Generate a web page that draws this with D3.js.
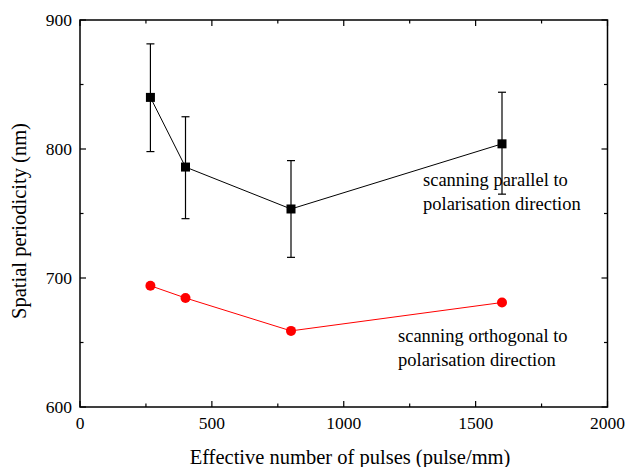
<!DOCTYPE html>
<html>
<head>
<meta charset="utf-8">
<script src="https://cdn.jsdelivr.net/npm/d3@7"></script>
<style>
  body { margin: 0; background: #fff; }
</style>
</head>
<body>
<div id="chart"></div>
<script>
// Data
const pulses = [267, 400, 800, 1600];
const parallelPeriod = [840, 786, 753.5, 804];
const parallelErrLow = [798, 746, 716, 765];
const parallelErrHigh = [881.5, 825, 791, 844];
const orthogonalPeriod = [694, 684.5, 659, 681];

const xTicks = [0, 500, 1000, 1500, 2000];
const xMinor = [250, 750, 1250, 1750];
const yTicks = [600, 700, 800, 900];
const yMinor = [650, 750, 850];

const FONT = "'Liberation Serif', Tinos, 'Times New Roman', 'DejaVu Serif', serif";
const width = 628, height = 467;
const margin = { top: 20, right: 20, bottom: 60, left: 80 };

const svg = d3.select('#chart').append('svg')
  .attr('width', width)
  .attr('height', height)
  .attr('font-family', FONT)
  .style('display', 'block');

const x = d3.scaleLinear().domain([0, 2000]).range([margin.left, 607.5]);
const y = d3.scaleLinear().domain([600, 900]).range([407, margin.top]);

const x0 = x.range()[0], x1 = x.range()[1];
const y0 = y.range()[0], y1 = y.range()[1];

// Frame
svg.append('rect')
  .attr('x', x0).attr('y', y1)
  .attr('width', x1 - x0).attr('height', y0 - y1)
  .attr('fill', 'none').attr('stroke', '#000').attr('stroke-width', 1.5);

// Ticks pointing inward on all four sides
const ticks = svg.append('g').attr('stroke', '#000').attr('stroke-width', 1.2);
function xTick(v, len) {
  ticks.append('line').attr('x1', x(v)).attr('x2', x(v)).attr('y1', y0).attr('y2', y0 - len);
  ticks.append('line').attr('x1', x(v)).attr('x2', x(v)).attr('y1', y1).attr('y2', y1 + len);
}
function yTick(v, len) {
  ticks.append('line').attr('y1', y(v)).attr('y2', y(v)).attr('x1', x0).attr('x2', x0 + len);
  ticks.append('line').attr('y1', y(v)).attr('y2', y(v)).attr('x1', x1).attr('x2', x1 - len);
}
xTicks.forEach(v => xTick(v, 6));
xMinor.forEach(v => xTick(v, 3.5));
yTicks.forEach(v => yTick(v, 6));
yMinor.forEach(v => yTick(v, 3.5));

// Tick labels
svg.append('g').selectAll('text')
  .data(xTicks)
  .join('text')
  .attr('x', d => x(d))
  .attr('y', y0 + 22)
  .attr('text-anchor', 'middle')
  .attr('font-family', FONT)
  .attr('font-size', 17.5)
  .text(d => d);

svg.append('g').selectAll('text')
  .data(yTicks)
  .join('text')
  .attr('x', x0 - 8)
  .attr('y', d => y(d) + 6)
  .attr('text-anchor', 'end')
  .attr('font-family', FONT)
  .attr('font-size', 17.5)
  .text(d => d);

// Axis titles
svg.append('text')
  .attr('x', 350)
  .attr('y', 464)
  .attr('text-anchor', 'middle')
  .attr('font-family', FONT)
  .attr('font-size', 20.5)
  .text('Effective number of pulses (pulse/mm)');

svg.append('text')
  .attr('transform', 'translate(26,221) rotate(-90)')
  .attr('text-anchor', 'middle')
  .attr('font-family', FONT)
  .attr('font-size', 20.5)
  .text('Spatial periodicity (nm)');

// Parallel series
const par = pulses.map((p, i) => ({
  x: p, y: parallelPeriod[i], lo: parallelErrLow[i], hi: parallelErrHigh[i]
}));
const orth = pulses.map((p, i) => ({ x: p, y: orthogonalPeriod[i] }));

const line = d3.line().x(d => x(d.x)).y(d => y(d.y));

const errG = svg.append('g').attr('stroke', '#000').attr('stroke-width', 1.2);
par.forEach(d => {
  errG.append('line').attr('x1', x(d.x)).attr('x2', x(d.x)).attr('y1', y(d.lo)).attr('y2', y(d.hi));
  errG.append('line').attr('x1', x(d.x) - 4).attr('x2', x(d.x) + 4).attr('y1', y(d.lo)).attr('y2', y(d.lo));
  errG.append('line').attr('x1', x(d.x) - 4).attr('x2', x(d.x) + 4).attr('y1', y(d.hi)).attr('y2', y(d.hi));
});

svg.append('path')
  .datum(par)
  .attr('d', line)
  .attr('fill', 'none')
  .attr('stroke', '#000')
  .attr('stroke-width', 1);

svg.append('g').selectAll('rect')
  .data(par)
  .join('rect')
  .attr('x', d => x(d.x) - 4.5)
  .attr('y', d => y(d.y) - 4.5)
  .attr('width', 9)
  .attr('height', 9)
  .attr('fill', '#000');

// Orthogonal series
svg.append('path')
  .datum(orth)
  .attr('d', line)
  .attr('fill', 'none')
  .attr('stroke', '#ff0000')
  .attr('stroke-width', 1);

svg.append('g').selectAll('circle')
  .data(orth)
  .join('circle')
  .attr('cx', d => x(d.x))
  .attr('cy', d => y(d.y))
  .attr('r', 5)
  .attr('fill', '#ff0000');

// Annotations
const notes = [
  { x: 423, y: 186, lines: ['scanning parallel to', 'polarisation direction'] },
  { x: 398, y: 342, lines: ['scanning orthogonal to', 'polarisation direction'] },
];
notes.forEach(n => {
  const t = svg.append('text').attr('font-family', FONT).attr('font-size', 18.5);
  n.lines.forEach((s, i) => {
    t.append('tspan').attr('x', n.x).attr('y', n.y + i * 24).text(s);
  });
});
</script>
</body>
</html>
